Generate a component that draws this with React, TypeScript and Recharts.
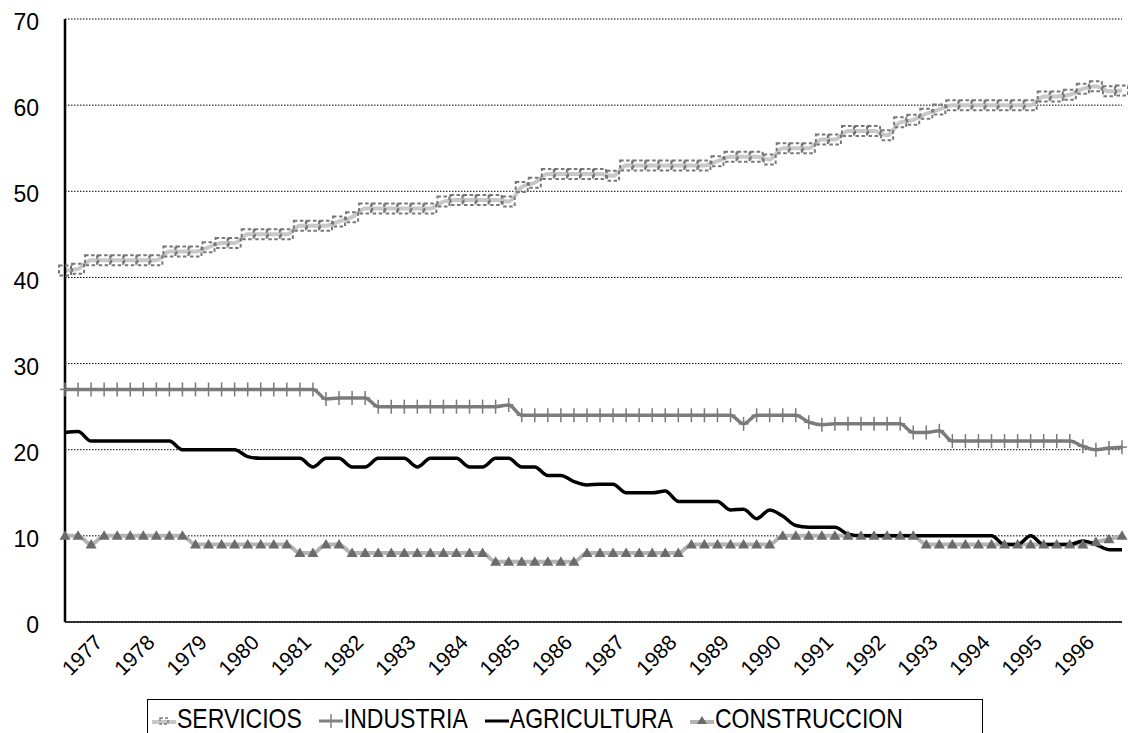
import { LineChart, Line, XAxis, YAxis, CartesianGrid } from 'recharts'

const FONT = '"Liberation Sans", Arial, sans-serif'

// year labels shown on the category axis
const years = [
  1977, 1978, 1979, 1980, 1981, 1982, 1983, 1984, 1985, 1986,
  1987, 1988, 1989, 1990, 1991, 1992, 1993, 1994, 1995, 1996,
]
const quarterNames = ['I', 'II', 'III', 'IV']
const quarters = ['1976-IV', ...years.flatMap((y) => quarterNames.map((q) => `${y}-${q}`)), '1997-I']
const yearTicks = years.map((y) => `${y}-II`)
const yTicks = [0, 10, 20, 30, 40, 50, 60, 70]

const seriesNames = ['SERVICIOS', 'INDUSTRIA', 'AGRICULTURA', 'CONSTRUCCION']

const servicios = [
  40.8, 41, 42, 42, 42, 42, 42, 42, 43, 43,
  43, 43.5, 44, 44, 45, 45, 45, 45, 46, 46,
  46, 46.5, 47, 48, 48, 48, 48, 48, 48, 48.8,
  49, 49, 49, 49, 48.8, 50.5, 51, 52, 52, 52,
  52, 52, 51.8, 53, 53, 53, 53, 53, 53, 53,
  53.5, 54, 54, 54, 53.7, 55, 55, 55, 56, 56,
  57, 57, 57, 56.5, 58, 58.3, 59, 59.5, 60, 60,
  60, 60, 60, 60, 60, 61, 61, 61.2, 61.9, 62.2,
  61.6, 61.7,
]

const industria = [
  27, 27, 27, 27, 27, 27, 27, 27, 27, 27,
  27, 27, 27, 27, 27, 27, 27, 27, 27, 27,
  25.9, 26, 26, 26, 25, 25, 25, 25, 25, 25,
  25, 25, 25, 25, 25.2, 24, 24, 24, 24, 24,
  24, 24, 24, 24, 24, 24, 24, 24, 24, 24,
  24, 24, 23, 24, 24, 24, 24, 23.2, 22.9, 23,
  23, 23, 23, 23, 23, 22, 22, 22.2, 21, 21,
  21, 21, 21, 21, 21, 21, 21, 21, 20.4, 20,
  20.2, 20.3,
]

const agricultura = [
  22, 22.1, 21, 21, 21, 21, 21, 21, 21, 20,
  20, 20, 20, 20, 19.2, 19, 19, 19, 19, 18,
  19, 19, 18, 18, 19, 19, 19, 18, 19, 19,
  19, 18, 18, 19, 19, 18, 18, 17, 17, 16.3,
  15.9, 16, 16, 15, 15, 15, 15.2, 14, 14, 14,
  14, 13, 13.1, 12, 13, 12.3, 11.2, 11, 11, 11,
  10.2, 10, 10, 10, 10, 10, 10, 10, 10, 10,
  10, 10, 9, 9, 10, 9, 9, 9, 9.4, 9,
  8.4, 8.4,
]

const construccion = [
  10, 10, 9, 10, 10, 10, 10, 10, 10, 10,
  9, 9, 9, 9, 9, 9, 9, 9, 8, 8,
  9, 9, 8, 8, 8, 8, 8, 8, 8, 8,
  8, 8, 8, 7, 7, 7, 7, 7, 7, 7,
  8, 8, 8, 8, 8, 8, 8, 8, 9, 9,
  9, 9, 9, 9, 9, 10, 10, 10, 10, 10,
  10, 10, 10, 10, 10, 10, 9, 9, 9, 9,
  9, 9, 9, 9, 9, 9, 9, 9, 9, 9.3,
  9.6, 10,
]

const data = quarters.map((q, i) => ({
  q,
  servicios: servicios[i],
  industria: industria[i],
  agricultura: agricultura[i],
  construccion: construccion[i],
}))

function ServiciosDot(props: any) {
  const { cx, cy } = props
  if (cx == null || cy == null) return null
  return (
    <rect x={cx - 6} y={cy - 5} width={12} height={10} fill="none" stroke="#777"
      strokeWidth={2} strokeDasharray="3.5 2.5" />
  )
}

function PlusDot(props: any) {
  const { cx, cy } = props
  if (cx == null || cy == null) return null
  return (
    <g stroke="#7a7a7a" strokeWidth={1.5}>
      <line x1={cx} y1={cy - 7} x2={cx} y2={cy + 7} />
      <line x1={cx - 5} y1={cy} x2={cx + 5} y2={cy} />
    </g>
  )
}

function TriangleDot(props: any) {
  const { cx, cy } = props
  if (cx == null || cy == null) return null
  return <polygon points={`${cx},${cy - 5.5} ${cx - 5.5},${cy + 4} ${cx + 5.5},${cy + 4}`} fill="#6b6b6b" />
}

function YearTick(props: any) {
  const { x, y, payload } = props
  return (
    <g transform={`translate(${x + 2}, ${y}) rotate(-45)`}>
      <text x={0} y={0} textAnchor="end" dy="0.72em" fill="#000"
        style={{ fontSize: 21, fontFamily: FONT }}>
        {String(payload.value).slice(0, 4)}
      </text>
    </g>
  )
}

function LegendIcon({ kind }: { kind: number }) {
  return (
    <svg width={24} height={14} style={{ marginRight: 1 }}>
      {kind === 0 && (
        <>
          <line x1={0} y1={8} x2={24} y2={8} stroke="#c8c8c8" strokeWidth={4} />
          <rect x={8} y={4} width={8} height={6} fill="none" stroke="#7a7a7a" strokeWidth={1.4} strokeDasharray="3 2" />
        </>
      )}
      {kind === 1 && (
        <>
          <line x1={0} y1={7} x2={24} y2={7} stroke="#808080" strokeWidth={3} />
          <line x1={12} y1={0} x2={12} y2={14} stroke="#808080" strokeWidth={1.5} />
        </>
      )}
      {kind === 2 && <line x1={0} y1={7} x2={24} y2={7} stroke="#000" strokeWidth={3} />}
      {kind === 3 && (
        <>
          <line x1={0} y1={8} x2={24} y2={8} stroke="#b4b4b4" strokeWidth={4} />
          <polygon points="12,2 7,10 17,10" fill="#6b6b6b" />
        </>
      )}
    </svg>
  )
}

export default function App() {
  return (
    <div style={{ position: 'absolute', left: 0, top: 0, width: 1128, height: 733, overflow: 'hidden', background: '#fff', fontFamily: FONT }}>
      <LineChart width={1128} height={733} data={data} margin={{ top: 19, right: 6, left: 0, bottom: 0 }}>
        <CartesianGrid vertical={false} stroke="#000" strokeDasharray="1.5 1.5" />
        <XAxis
          dataKey="q"
          ticks={yearTicks}
          interval={0}
          height={111}
          tickLine={false}
          tickMargin={5}
          axisLine={{ stroke: '#000', strokeWidth: 1.5 }}
          tick={<YearTick />}
        />
        <XAxis xAxisId="top" orientation="top" dataKey="q" height={0} tick={false} tickLine={false}
          axisLine={{ stroke: '#000', strokeWidth: 1.5 }} />
        <YAxis
          domain={[0, 70]}
          ticks={yTicks}
          width={65}
          tickLine={false}
          tickMargin={20}
          axisLine={{ stroke: '#000', strokeWidth: 2.5 }}
          tick={{ fontSize: 23, fill: '#000', fontFamily: FONT, dy: 3 }}
        />
        <YAxis yAxisId="right" orientation="right" domain={[0, 70]} width={0} tick={false} tickLine={false}
          axisLine={{ stroke: '#000', strokeWidth: 1.5 }} />
        <Line dataKey="servicios" name={seriesNames[0]} type="monotone" stroke="#c8c8c8" strokeWidth={4}
          dot={<ServiciosDot />} isAnimationActive={false} />
        <Line dataKey="industria" name={seriesNames[1]} type="monotone" stroke="#7c7c7c" strokeWidth={3.5}
          dot={<PlusDot />} isAnimationActive={false} />
        <Line dataKey="construccion" name={seriesNames[3]} type="monotone" stroke="#b4b4b4" strokeWidth={4}
          dot={<TriangleDot />} isAnimationActive={false} />
        <Line dataKey="agricultura" name={seriesNames[2]} type="monotone" stroke="#000" strokeWidth={3.5}
          dot={false} isAnimationActive={false} />
      </LineChart>
      <div style={{
        position: 'absolute', left: 147, top: 699, width: 836, height: 60, boxSizing: 'border-box',
        border: '1.5px solid #000', display: 'flex', alignItems: 'flex-start', paddingLeft: 4, paddingTop: 10,
        fontSize: 23, color: '#000', fontFamily: FONT,
      }}>
        {seriesNames.map((name, i) => (
          <div key={name} style={{ display: 'flex', alignItems: 'center', marginRight: 17 }}>
            <LegendIcon kind={i} />
            <span style={{ display: 'inline-block', transform: 'scaleY(1.22)', transformOrigin: 'center bottom', lineHeight: '22px' }}>{name}</span>
          </div>
        ))}
      </div>
    </div>
  )
}
